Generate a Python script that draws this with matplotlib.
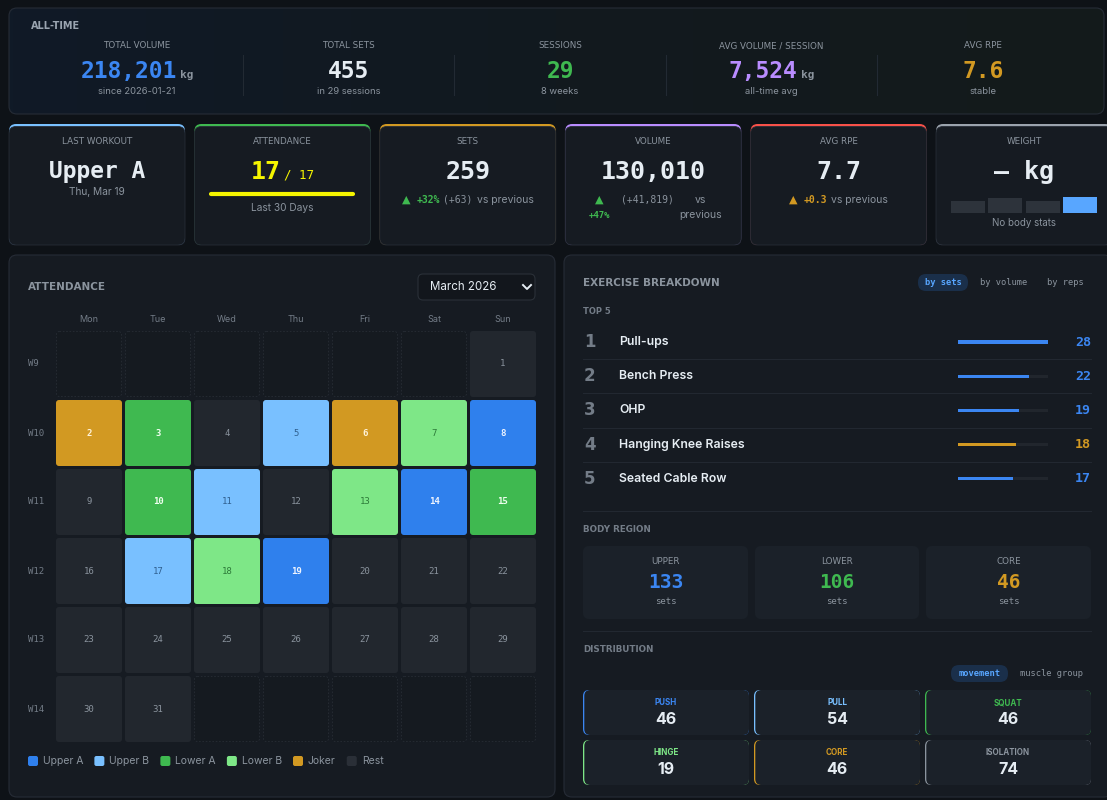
import matplotlib
matplotlib.use("Agg")
import matplotlib.pyplot as plt
import numpy as np
from matplotlib.colors import LinearSegmentedColormap
from matplotlib.patches import FancyBboxPatch

W, H = 1107, 800

# ---- data ----
alltime_labels = ["TOTAL VOLUME", "TOTAL SETS", "SESSIONS", "AVG VOLUME / SESSION", "AVG RPE"]
alltime_values = ["218,201", "455", "29", "7,524", "7.6"]
alltime_units = ["kg", "", "", "kg", ""]
alltime_subs = ["since 2026-01-21", "in 29 sessions", "8 weeks", "all-time avg", "stable"]

last_workout = "Upper A"
last_date = "Thu, Mar 19"
attended, attend_goal = 17, 17
sets_now, sets_pct, sets_delta = 259, 32, 63
volume_now, volume_pct, volume_delta = 130010, 47, 41819
rpe_now, rpe_delta = 7.7, 0.3
weight_bars = [12, 15, 12, 16]

weekdays = ["Mon", "Tue", "Wed", "Thu", "Fri", "Sat", "Sun"]
week_labels = ["W9", "W10", "W11", "W12", "W13", "W14"]
first_weekday = 6  # 1 March 2026 is a Sunday
day_types = (["Rest", "Joker", "Lower A", "Rest", "Upper B", "Joker", "Lower B",
              "Upper A", "Rest", "Lower A", "Upper B", "Rest", "Lower B",
              "Upper A", "Lower A", "Rest", "Upper B", "Lower B", "Upper A"]
             + ["Rest"] * 12)
legend_types = ["Upper A", "Upper B", "Lower A", "Lower B", "Joker", "Rest"]

top_names = ["Pull-ups", "Bench Press", "OHP", "Hanging Knee Raises", "Seated Cable Row"]
top_sets = [28, 22, 19, 18, 17]
top_region = ["upper", "upper", "upper", "core", "upper"]

region_labels = ["UPPER", "LOWER", "CORE"]
region_sets = [133, 106, 46]

dist_labels = ["PUSH", "PULL", "SQUAT", "HINGE", "CORE", "ISOLATION"]
dist_values = [46, 54, 46, 19, 46, 74]

# ---- palette ----
BG = "#0e1217"
CARD = "#161b22"
EDGE = "#262c36"
INNER = "#1b2129"
TEXT = "#e6edf3"
MUTED = "#8b949e"
DIM = "#737c87"
BLUE = "#3b86f2"
LBLUE = "#79c0ff"
GREEN = "#3fb950"
LGREEN = "#7ee787"
ORANGE = "#d29922"
PURPLE = "#b98cff"
RED = "#f85149"
YELLOW = "#f5f500"
REST = "#22272e"
PILL = "#1a2f4a"
PILLTXT = "#58a6ff"

type_colors = {"Upper A": "#2f80ed", "Upper B": LBLUE, "Lower A": GREEN,
               "Lower B": LGREEN, "Joker": ORANGE, "Rest": REST}
type_text = {"Upper A": ("#eef4ff", "bold"), "Upper B": ("#2f5f8f", "normal"),
             "Lower A": ("#effff0", "bold"), "Lower B": ("#2c7a38", "normal"),
             "Joker": ("#fff3da", "bold"), "Rest": (MUTED, "normal")}
region_colors = {"upper": BLUE, "lower": GREEN, "core": ORANGE}
dist_colors = [BLUE, LBLUE, GREEN, LGREEN, ORANGE, MUTED]

SANS = ["Inter", "DejaVu Sans"]
WIDE = ["DejaVu Sans"]
MONO = ["DejaVu Sans Mono"]

fig = plt.figure(figsize=(W / 100, H / 100), dpi=100, facecolor=BG)
ax = fig.add_axes((0, 0, 1, 1))
ax.set_facecolor(BG)
renderer = fig.canvas.get_renderer()


def box(x, y, w, h, r=6, fc=CARD, ec="none", lw=0.8, ls="-", z=1):
    p = FancyBboxPatch((x, y), w, h, boxstyle=f"round,pad=0,rounding_size={r}",
                       fc=fc, ec=ec, lw=lw, ls=ls, zorder=z)
    ax.add_patch(p)
    return p


def txt(x, y, s, size=7, color=TEXT, family=SANS, weight="normal", ha="center", va="center", z=5):
    return ax.text(x, y, s, fontsize=size, color=color, family=family,
                   fontweight=weight, ha=ha, va=va, zorder=z)


def run(x, y, parts, align="center", va="baseline"):
    items = []
    for s, kw, gap in parts:
        t = txt(0, y, s, ha="left", va=va, **kw)
        items.append((t, t.get_window_extent(renderer).width, gap))
    total = sum(w for _, w, _ in items) + sum(g for _, _, g in items[:-1])
    cur = x - total / 2 if align == "center" else x
    for t, w, g in items:
        t.set_x(cur)
        cur += w + g


# ---- all-time strip ----
top = box(9, 8, 1095, 106, r=8, fc="none", ec=EDGE, z=1)
cmap = LinearSegmentedColormap.from_list("strip", ["#101a27", "#12191f", "#141b1b"])
im = ax.imshow(np.linspace(0, 1, 256)[None, :], extent=(9, 1104, 114, 8),
               cmap=cmap, aspect="auto", zorder=0.5)
im.set_clip_path(top)
txt(31, 26, "ALL-TIME", size=7, color="#9aa4b0", family=WIDE, weight="bold", ha="left")

alltime_colors = [BLUE, TEXT, GREEN, PURPLE, ORANGE]
col_w = 1058 / 5
for i in range(5):
    cx = 31 + col_w * (i + 0.5)
    txt(cx, 46, alltime_labels[i], size=6.3, color=MUTED, family=WIDE)
    parts = [(alltime_values[i], dict(size=16.5, color=alltime_colors[i], family=MONO, weight="bold"), 3)]
    if alltime_units[i]:
        parts.append((alltime_units[i], dict(size=8, color=MUTED, family=MONO, weight="bold"), 0))
    run(cx, 78, parts)
    txt(cx, 92, alltime_subs[i], size=6.8, color=MUTED)
    if i:
        ax.plot([31 + col_w * i] * 2, [55, 95], color="#222a33", lw=0.8, zorder=2)

# ---- KPI cards ----
accents = [LBLUE, GREEN, ORANGE, PURPLE, RED, "#9ba3ad"]
kpi_labels = ["LAST WORKOUT", "ATTENDANCE", "SETS", "VOLUME", "AVG RPE", "WEIGHT"]
card_x = [9 + 185.4 * i for i in range(6)]
big = dict(size=18, color=TEXT, family=MONO, weight="bold", va="baseline")
for i, x in enumerate(card_x):
    box(x, 124, 176, 121, r=7, fc=accents[i], z=1)
    box(x, 126.5, 176, 118.5, r=7, fc=CARD, ec=EDGE, lw=0.6, z=1.1)
    txt(x + 88, 142, kpi_labels[i], size=6.3, color=MUTED, family=WIDE)

cx = [x + 88 for x in card_x]
txt(cx[0], 178, last_workout, **{**big, "size": 16.5})
txt(cx[0], 192, last_date, size=7.3, color=MUTED)

run(cx[1], 179, [(str(attended), dict(size=18, color=YELLOW, family=MONO, weight="bold"), 4),
                 (f"/ {attend_goal}", dict(size=9, color=YELLOW, family=MONO), 0)])
ax.plot([211, 211 + 142 * attended / attend_goal], [193.5, 193.5], color=YELLOW,
        lw=3, solid_capstyle="round", zorder=3)
txt(cx[1], 208, "Last 30 Days", size=7.3, color=MUTED)

txt(cx[2], 179, str(sets_now), **big)
run(cx[2], 200, [("▲", dict(size=8, color=GREEN, family=WIDE), 6),
                 (f"+{sets_pct}%", dict(size=7, color=GREEN, family=MONO, weight="bold"), 3),
                 (f"(+{sets_delta})", dict(size=7, color=MUTED, family=MONO), 4),
                 ("vs previous", dict(size=7.5, color=MUTED), 0)], va="center")

txt(cx[3], 179, f"{volume_now:,}", **big)
txt(card_x[3] + 34, 200, "▲", size=8, color=GREEN, family=WIDE)
txt(card_x[3] + 82, 200, f"(+{volume_delta:,})", size=7, color=MUTED, family=MONO)
txt(card_x[3] + 135, 200, "vs", size=7.5, color=MUTED)
txt(card_x[3] + 34, 215, f"+{volume_pct}%", size=6.5, color=GREEN, family=MONO, weight="bold")
txt(card_x[3] + 135, 215, "previous", size=7.5, color=MUTED)

txt(cx[4], 179, f"{rpe_now}", **big)
run(cx[4], 200, [("▲", dict(size=8, color=ORANGE, family=WIDE), 6),
                 (f"+{rpe_delta}", dict(size=7, color=ORANGE, family=MONO, weight="bold"), 4),
                 ("vs previous", dict(size=7.5, color=MUTED), 0)], va="center")

txt(cx[5], 179, "— kg", **big)
wx = [cx[5] + 37.3 * (i - 1.5) for i in range(len(weight_bars))]
ax.bar(wx, [-h for h in weight_bars], bottom=213, width=34,
       color=["#2d333b"] * (len(weight_bars) - 1) + ["#58a6ff"], zorder=3)
txt(cx[5], 223, "No body stats", size=7, color=MUTED)

# ---- attendance calendar ----
box(9, 255, 546, 542, r=8, fc=CARD, ec=EDGE)
txt(28, 287, "ATTENDANCE", size=7.5, color=MUTED, family=WIDE, weight="bold", ha="left")
box(418, 274, 117, 26, r=5, fc="#12161c", ec="#2a3038", lw=0.8, z=2)
txt(463, 287, "March 2026", size=8.3, color=TEXT)
ax.plot([523, 527, 531], [285, 289, 285], color=TEXT, lw=1.4, zorder=3)

for c, d in enumerate(weekdays):
    txt(89 + 69 * c, 319, d, size=6.5, color=DIM)
for r, w in enumerate(week_labels):
    txt(28, 364 + 69 * r, w, size=6.5, color=DIM, family=MONO, ha="left")

n_cells = len(week_labels) * 7
for k in range(n_cells):
    r, c = divmod(k, 7)
    x0, y0 = 56 + 69 * c, 331 + 69 * r
    day = k - first_weekday + 1
    if 1 <= day <= len(day_types):
        kind = day_types[day - 1]
        box(x0, y0, 66, 66, r=3, fc=type_colors[kind], z=2)
        tc, tw = type_text[kind]
        txt(x0 + 33, y0 + 33, str(day), size=6.5, color=tc, weight=tw, family=MONO)
    else:
        box(x0 + 0.5, y0 + 0.5, 65, 65, r=3, fc="#151a20", ec="#272d35", lw=0.6,
            ls=(0, (2, 2)), z=2)

lx = 28
for kind in legend_types:
    box(lx, 756, 10, 10, r=2, fc=type_colors[kind] if kind != "Rest" else "#2a2f37", z=2)
    t = txt(lx + 15, 761.5, kind, size=7.5, color=MUTED, ha="left")
    lx += 15 + t.get_window_extent(renderer).width + 11

# ---- exercise breakdown ----
box(564, 255, 548, 542, r=8, fc=CARD, ec=EDGE)
txt(583, 283, "EXERCISE BREAKDOWN", size=7.5, color=MUTED, family=WIDE, weight="bold", ha="left")
box(918, 274, 50, 17, r=8, fc=PILL, z=2)
txt(943, 282.5, "by sets", size=6.3, color=PILLTXT, family=MONO, weight="bold")
txt(1004, 282.5, "by volume", size=6.3, color=MUTED, family=MONO)
txt(1065, 282.5, "by reps", size=6.3, color=MUTED, family=MONO)
txt(583, 311, "TOP 5", size=6, color=DIM, family=WIDE, weight="bold", ha="left")

row_y = [342 + 34.2 * i for i in range(len(top_names))]
for i, (name, val) in enumerate(zip(top_names, top_sets)):
    y = row_y[i]
    txt(584, y, str(i + 1), size=12, color=DIM, family=WIDE, weight="bold", ha="left")
    txt(619, y, name, size=8.8, color=TEXT, weight="semibold", ha="left")
    txt(1091, y, str(val), size=9.5, color=region_colors[top_region[i]], family=MONO,
        weight="bold", ha="right")
    if i < len(top_names) - 1:
        ax.plot([583, 1091], [y + 17.1] * 2, color="#222831", lw=0.8, zorder=2)
ax.plot([583, 1091], [511, 511], color="#222831", lw=0.8, zorder=2)

bar_ax = fig.add_axes((958 / W, 1 - (row_y[-1] + 17.1) / H, 90 / W, 34.2 * len(top_names) / H))
idx = np.arange(len(top_sets))
bar_ax.barh(idx, [max(top_sets)] * len(top_sets), height=0.09, color="#21262d")
bar_ax.barh(idx, top_sets, height=0.09, color=[region_colors[g] for g in top_region])
bar_ax.set_xlim(0, max(top_sets))
bar_ax.set_ylim(len(top_sets) - 0.5, -0.5)
bar_ax.axis("off")
bar_ax.patch.set_alpha(0)

txt(583, 530, "BODY REGION", size=6.3, color=DIM, family=WIDE, weight="bold", ha="left")
reg_x = [583, 755, 926]
reg_w = [165, 164, 165]
for i, (lab, val) in enumerate(zip(region_labels, region_sets)):
    box(reg_x[i], 546, reg_w[i], 73, r=6, fc=INNER, z=2)
    c = reg_x[i] + reg_w[i] / 2
    txt(c, 562, lab, size=6.3, color=MUTED, family=WIDE)
    txt(c, 582, str(val), size=14, color=region_colors[lab.lower()], family=MONO, weight="bold")
    txt(c, 602, "sets", size=6.5, color=MUTED, family=MONO)

ax.plot([583, 1091], [631, 631], color="#222831", lw=0.8, zorder=2)
txt(583, 649, "DISTRIBUTION", size=6.3, color=DIM, family=WIDE, weight="bold", ha="left")
box(951, 665, 57, 17, r=8, fc=PILL, z=2)
txt(979.5, 673.5, "movement", size=6.3, color=PILLTXT, family=MONO, weight="bold")
txt(1052, 673.5, "muscle group", size=6.3, color=MUTED, family=MONO)

dist_x = [583, 754, 925]
dist_y = [690, 740]
for i, (lab, val) in enumerate(zip(dist_labels, dist_values)):
    r, c = divmod(i, 3)
    x0, y0 = dist_x[c], dist_y[r]
    box(x0, y0, 166, 45, r=6, fc=dist_colors[i], z=2)
    box(x0 + 1.3, y0, 164.7, 45, r=6, fc=INNER, z=2.1)
    xc = x0 + 83
    txt(xc, y0 + 12.5, lab, size=5.8, color=dist_colors[i], weight="bold")
    txt(xc, y0 + 30, str(val), size=11.5, color=TEXT, weight="bold")

ax.set_xlim(0, W)
ax.set_ylim(H, 0)
ax.axis("off")
fig.savefig("out.png", dpi=100, facecolor=BG)
